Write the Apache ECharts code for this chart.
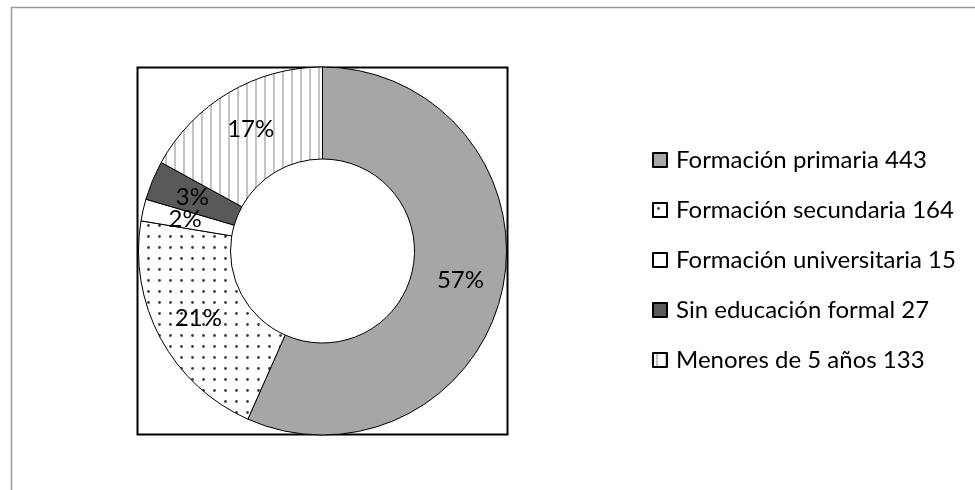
<!DOCTYPE html>
<html>
<head>
<meta charset="utf-8">
<script src="https://cdn.jsdelivr.net/npm/echarts@6/dist/echarts.min.js"></script>
<style>
html,body{margin:0;padding:0;background:#fff;}
#chart{width:975px;height:490px;}
</style>
</head>
<body>
<div id="chart"></div>
<script>
// ---- data ----
const categories = ['Formación primaria', 'Formación secundaria', 'Formación universitaria', 'Sin educación formal', 'Menores de 5 años'];
const values = [443, 164, 15, 27, 133];

// ---- patterns / styles ----
function dotPattern() {
  const c = document.createElement('canvas');
  c.width = 11; c.height = 11;
  const g = c.getContext('2d');
  g.fillStyle = '#ffffff'; g.fillRect(0, 0, 11, 11);
  g.fillStyle = '#404040';
  g.beginPath(); g.arc(5.5, 5.5, 1.4, 0, Math.PI * 2); g.fill();
  return c;
}
function stripePattern() {
  const c = document.createElement('canvas');
  c.width = 9; c.height = 9;
  const g = c.getContext('2d');
  g.fillStyle = '#ffffff'; g.fillRect(0, 0, 9, 9);
  g.fillStyle = '#c4c4c4'; g.fillRect(3, 0, 2, 9);
  return c;
}
const fills = [
  '#a6a6a6',
  { image: dotPattern(), repeat: 'repeat' },
  '#ffffff',
  '#595959',
  { image: stripePattern(), repeat: 'repeat' }
];

const FONT = 'Lato';
const names = categories.map((c, i) => c + ' ' + values[i]);

const chart = echarts.init(document.getElementById('chart'), null, { renderer: 'canvas' });
chart.setOption({
  animation: false,
  backgroundColor: '#ffffff',
  graphic: [
    { type: 'rect', z: -10, shape: { x: 11.5, y: 7.5, width: 1000, height: 1000 },
      style: { fill: '#ffffff', stroke: '#9a9a9a', lineWidth: 1.5 } },
    { type: 'rect', z: -5, shape: { x: 137.5, y: 67.5, width: 370, height: 367 },
      style: { fill: '#ffffff', stroke: '#000000', lineWidth: 2 } }
  ],
  legend: {
    orient: 'vertical',
    left: 647,
    top: 142,
    itemWidth: 14,
    itemHeight: 14,
    itemGap: 24,
    icon: 'rect',
    selectedMode: false,
    textStyle: { fontFamily: FONT, fontSize: 24, color: '#000', padding: [0, 0, 0, 4], lineHeight: 26 },
    data: names
  },
  series: [{
    type: 'pie',
    center: [322.5, 251],
    radius: [92, 184],
    startAngle: 90,
    clockwise: true,
    silent: true,
    labelLine: { show: false },
    label: {
      show: true,
      position: 'inside',
      fontFamily: FONT,
      fontSize: 24,
      color: '#000',
      formatter: p => Math.round(p.percent) + '%'
    },
    labelLayout: { hideOverlap: false },
    itemStyle: { borderColor: '#000', borderWidth: 1 },
    data: values.map((v, i) => ({
      name: names[i],
      value: v,
      itemStyle: { color: fills[i] }
    }))
  }]
});
</script>
</body>
</html>
